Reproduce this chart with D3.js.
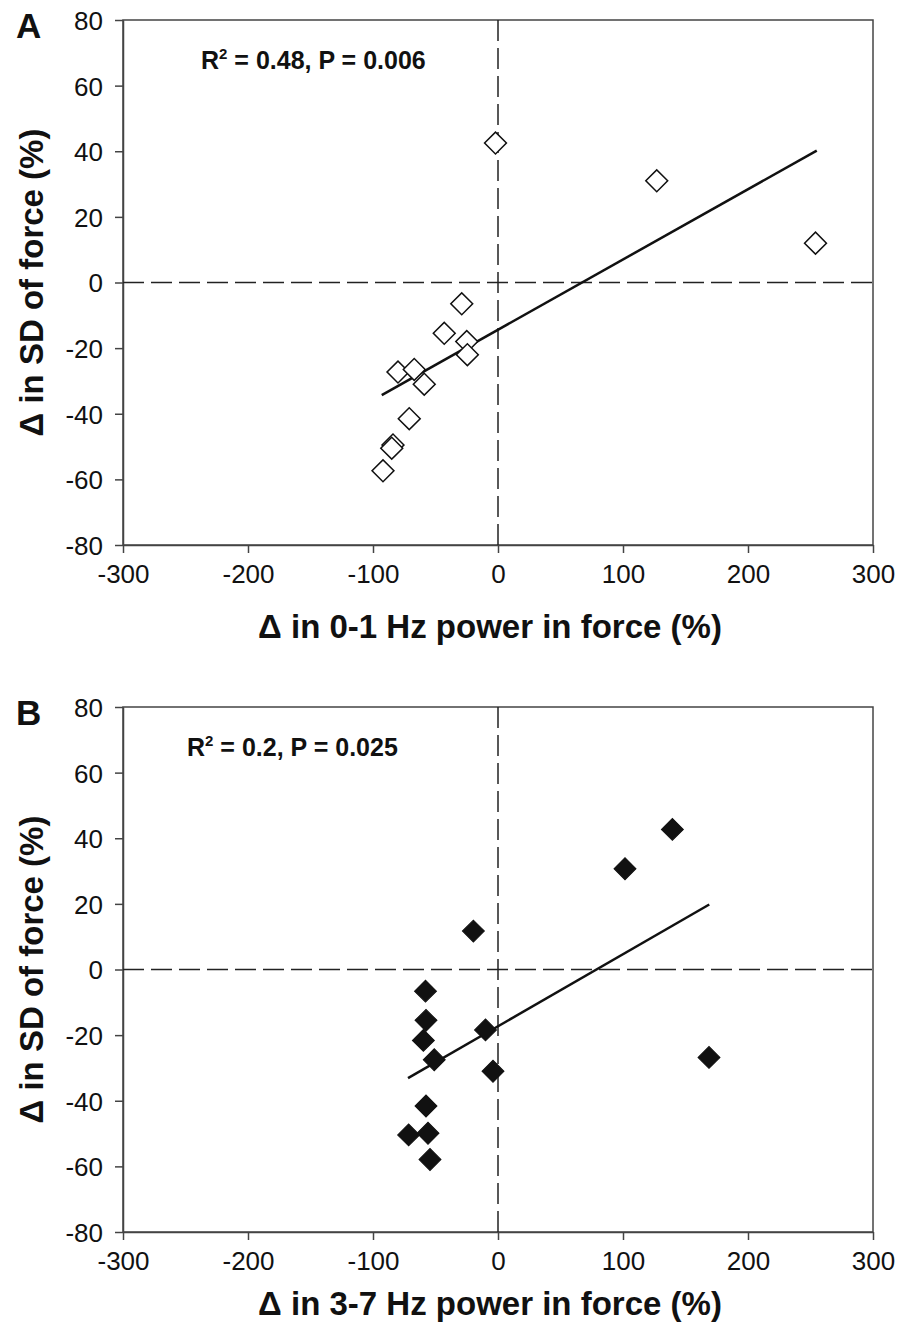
<!DOCTYPE html>
<html>
<head>
<meta charset="utf-8">
<script src="https://cdn.jsdelivr.net/npm/d3@7"></script>
<style>
  body { margin: 0; background: #fff; }
  text { font-family: "Liberation Sans", Arial, sans-serif; }
</style>
</head>
<body>
<div id="chart"></div>
<script>
// panel A: 0-1 Hz power vs SD of force
var aX = [-2, 127, 254, -29, -43, -25, -24.5, -80, -67, -59, -71, -84, -85, -92];
var aY = [42.5, 31, 12, -6.5, -15.5, -18, -22, -27.3, -26.5, -31, -41.5, -49.5, -50.5, -57.4];
var fitAX = [-93, 255];
var fitAY = [-34.3, 40.2];

// panel B: 3-7 Hz power vs SD of force
var bX = [139.5, 101.6, 168.8, -19.7, -58, -57.6, -59.7, -51, -10, -4, -57.6, -71.5, -56, -54.4];
var bY = [42.7, 30.7, -26.8, 11.7, -6.6, -15.5, -21.6, -27.5, -18.4, -31, -41.6, -50.4, -49.9, -57.9];
var fitBX = [-72, 169];
var fitBY = [-33.1, 19.8];

var xTicks = [-300, -200, -100, 0, 100, 200, 300];
var yTicks = [-80, -60, -40, -20, 0, 20, 40, 60, 80];

var width = 903,
    height = 1332;

var svg = d3.select("#chart").append("svg")
    .attr("width", width)
    .attr("height", height);

// plain hyphen for negatives, like the original figure
var fmt = function (d) { return String(d); };

function drawPanel(p) {
    var x = d3.scaleLinear().domain([-300, 300]).range([123, 873]);
    var y = d3.scaleLinear().domain([-80, 80]).range([p.bottom, p.top]);
    var g = svg.append("g");

    // frame
    g.append("rect")
        .attr("x", x(-300)).attr("y", y(80))
        .attr("width", x(300) - x(-300)).attr("height", y(-80) - y(80))
        .attr("fill", "none").attr("stroke", "#444").attr("stroke-width", 1.5);

    var xAxis = g.append("g")
        .attr("transform", "translate(0," + y(-80) + ")")
        .call(d3.axisBottom(x).tickValues(xTicks).tickFormat(fmt)
            .tickSize(8).tickSizeOuter(0).tickPadding(12));
    var yAxis = g.append("g")
        .attr("transform", "translate(" + x(-300) + ",0)")
        .call(d3.axisLeft(y).tickValues(yTicks).tickFormat(fmt)
            .tickSize(8).tickSizeOuter(0).tickPadding(12));

    [xAxis, yAxis].forEach(function (a) {
        a.select(".domain").attr("stroke", "#444").attr("stroke-width", 1.5);
        a.selectAll(".tick line").attr("stroke", "#444").attr("stroke-width", 1.5);
        a.selectAll(".tick text")
            .attr("fill", "#111")
            .style("font-size", "26px")
            .style("font-family", "'Liberation Sans', Arial, sans-serif");
    });
    yAxis.selectAll(".tick text").attr("dy", "0.36em");

    // zero lines
    g.append("line")
        .attr("x1", x(-300)).attr("x2", x(300))
        .attr("y1", y(0)).attr("y2", y(0))
        .attr("stroke", "#222").attr("stroke-width", 1.5)
        .attr("stroke-dasharray", "21,7");
    g.append("line")
        .attr("x1", x(0)).attr("x2", x(0))
        .attr("y1", y(80)).attr("y2", y(-80))
        .attr("stroke", "#222").attr("stroke-width", 1.5)
        .attr("stroke-dasharray", "21,7");

    // regression line
    g.append("line")
        .attr("x1", x(p.fitX[0])).attr("y1", y(p.fitY[0]))
        .attr("x2", x(p.fitX[1])).attr("y2", y(p.fitY[1]))
        .attr("stroke", "#111").attr("stroke-width", 2.5);

    var diamond = d3.symbol().type(d3.symbolSquare).size(240);
    g.selectAll(".pt")
        .data(p.xs)
        .enter().append("path")
        .attr("class", "pt")
        .attr("d", diamond)
        .attr("transform", function (d, i) {
            return "translate(" + x(d) + "," + y(p.ys[i]) + ") rotate(45)";
        })
        .attr("fill", p.filled ? "#111" : "#fff")
        .attr("stroke", "#111")
        .attr("stroke-width", p.filled ? 1 : 1.5);

    // stats
    var st = g.append("text")
        .attr("x", p.statX).attr("y", y(80) + 49)
        .attr("fill", "#111")
        .style("font-size", "25px").style("font-weight", "bold");
    st.append("tspan").text("R");
    st.append("tspan").attr("dy", -10).style("font-size", "15px").text("2");
    st.append("tspan").attr("dy", 10).text(p.stat);

    // panel letter
    g.append("text")
        .attr("x", 16).attr("y", y(80) + 18)
        .attr("fill", "#111")
        .style("font-size", "35px").style("font-weight", "bold")
        .text(p.letter);

    // axis titles
    g.append("text")
        .attr("x", 490).attr("y", y(-80) + p.titleGap)
        .attr("text-anchor", "middle")
        .attr("fill", "#111")
        .style("font-size", "33px").style("font-weight", "bold")
        .text(p.xLabel);
    g.append("text")
        .attr("transform", "translate(43," + y(0) + ") rotate(-90)")
        .attr("text-anchor", "middle")
        .attr("fill", "#111")
        .style("font-size", "33px").style("font-weight", "bold")
        .text("\u0394 in SD of force (%)");
}

drawPanel({
    letter: "A", top: 20, bottom: 545, titleGap: 93,
    xs: aX, ys: aY, fitX: fitAX, fitY: fitAY, filled: false,
    statX: 201, stat: " = 0.48, P = 0.006",
    xLabel: "\u0394 in 0-1 Hz power in force (%)"
});
drawPanel({
    letter: "B", top: 707, bottom: 1232, titleGap: 83,
    xs: bX, ys: bY, fitX: fitBX, fitY: fitBY, filled: true,
    statX: 187, stat: " = 0.2, P = 0.025",
    xLabel: "\u0394 in 3-7 Hz power in force (%)"
});
</script>
</body>
</html>
